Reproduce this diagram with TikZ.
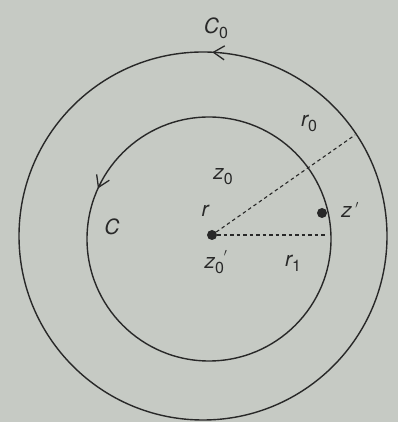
\documentclass[tikz,border=0pt]{standalone}
\usepackage{fontspec}
\setmainfont{TeX Gyre Heros}
\usetikzlibrary{arrows.meta,decorations.markings}
\definecolor{bgpaper}{RGB}{198,202,196}
\definecolor{ink}{RGB}{40,40,40}
\newcommand{\lowsub}[1]{\raisebox{-0.45ex}{\fontsize{16}{16}\selectfont\upshape #1}}
\tikzset{
  circ/.style={draw=ink, line width=1.4pt},
  dashline/.style={draw=ink, line width=1.1pt, dash pattern=on 3.5pt off 3pt},
  dotnode/.style={circle, fill=ink, inner sep=0pt, minimum size=10pt},
  lbl/.style={text=ink, font=\fontsize{21}{21}\selectfont\itshape, inner sep=0pt},
  arrowmark/.style={postaction={decorate, decoration={markings,
     mark=at position #1 with {\arrow{Straight Barb[length=11pt,width=14pt,line width=1.3pt]}}}}}
}
\begin{document}
\begin{tikzpicture}[x=1pt,y=1pt]
\fill[bgpaper] (0,0) rectangle (398,422);
\useasboundingbox (0,0) rectangle (398,422);
% circles
\draw[circ, arrowmark=0.242] (203,186) circle[radius=184];
\draw[circ, arrowmark=0.432] (209,183) circle[radius=122];
% points
\node[dotnode] (o) at (212,187) {};
\node[dotnode] (zp) at (322,209) {};
\coordinate (rend) at (355,287);
\coordinate (hend) at (325,187);
% dashed radii
\draw[dashline] (o) -- (rend);
\draw[dashline] (o) -- (hend);
% labels
\node[lbl] (c0) at (216,394) {C\lowsub{0}};
\node[lbl] (r0) at (309,299) {r\lowsub{0}};
\node[lbl] (z0) at (223,245) {z\lowsub{0}};
\node[lbl] (r) at (205,211) {r};
\node[lbl] (c) at (112,195) {C};
\node[lbl] (zl) at (350,212) {z\,\raisebox{0.3ex}{\upshape\fontsize{15}{15}\selectfont$'$}};
\node[lbl] (z0p) at (216,160) {z\lowsub{0}\raisebox{0.6ex}{\fontsize{15}{15}\selectfont$'$}};
\node[lbl] (r1) at (293,159) {r\lowsub{1}};
\end{tikzpicture}
\end{document}
